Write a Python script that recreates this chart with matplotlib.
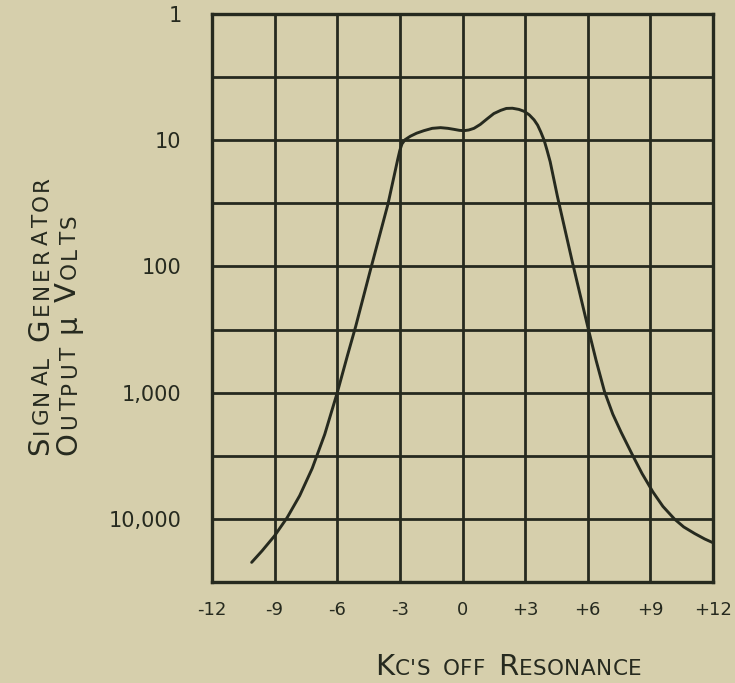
import numpy as np
import matplotlib
matplotlib.use("Agg")
import matplotlib.pyplot as plt
from matplotlib.ticker import NullFormatter
from matplotlib.font_manager import FontProperties, findfont, get_font

# curve: kc off resonance vs signal generator output (microvolts)
kc_off = [-10.1, -9.6, -9.0, -8.4, -7.8, -7.2, -6.6, -6.0, -5.5, -5.12,
          -4.4, -3.57, -3.3, -3.1, -3.0, -2.9, -2.75, -2.5, -2.2, -1.85,
          -1.45, -1.05, -0.7, -0.41, -0.15, 0.07, 0.3, 0.55, 0.85, 1.19,
          1.5, 1.83, 2.1, 2.39, 2.7, 2.95, 3.2, 3.43, 3.6, 3.75,
          3.91, 4.05, 4.2, 4.55, 5.28, 6.0, 6.4, 6.8, 7.2, 7.6,
          8.16, 8.6, 9.12, 9.6, 10.16, 10.6, 11.12, 11.6, 12.0]
output_uv = [22100, 17900, 13600, 9770, 6550, 3980, 2140, 1000, 500, 300,
             105, 32, 20, 14.1, 12, 10.7, 9.9, 9.3, 8.8, 8.4,
             8.05, 7.95, 8.05, 8.2, 8.35, 8.4, 8.3, 8.05, 7.5, 6.75,
             6.15, 5.8, 5.6, 5.58, 5.7, 5.9, 6.3, 6.9, 7.6, 8.6,
             10, 12, 14.8, 28, 95, 300, 555, 977, 1480, 2060,
             3160, 4370, 6110, 7960, 10050, 11590, 13060, 14420, 15450]

x_ticks = [-12, -9, -6, -3, 0, 3, 6, 9, 12]
x_tick_labels = ["-12", "-9", "-6", "-3", "0", "+3", "+6", "+9", "+12"]
y_ticks = [1, 10, 100, 1000, 10000]
y_tick_labels = ["1", "10", "100", "1,000", "10,000"]

paper = "#d6cfac"
ink = "#262a1f"
W, H = 735, 683

fig = plt.figure(figsize=(W / 100, H / 100), dpi=100, facecolor=paper)
ax = fig.add_axes([212 / W, 1 - 582 / H, (713 - 212) / W, (582 - 14) / H])
ax.set_facecolor(paper)

ax.plot(kc_off, output_uv, color=ink, lw=2.1, solid_joinstyle="round",
        solid_capstyle="round", zorder=3)

ax.set_yscale("log")
ax.set_ylim(10 ** 4.5, 1)
ax.set_xlim(-12, 12)
ax.set_xticks(x_ticks, x_tick_labels)
ax.set_yticks(y_ticks, y_tick_labels)
# half-decade grid lines
ax.set_yticks(np.logspace(0.5, 3.5, 4), minor=True)
ax.yaxis.set_minor_formatter(NullFormatter())
ax.grid(which="both", color=ink, lw=2.0)
ax.tick_params(which="both", length=0, labelcolor=ink)
ax.tick_params(axis="x", pad=14, labelsize=13)
ax.tick_params(axis="y", pad=22, labelsize=15)
for s in ax.spines.values():
    s.set_color(ink)
    s.set_linewidth(2.4)

font = get_font(findfont(FontProperties(family="DejaVu Sans")))


def advance(ch, size):
    # horizontal advance of one glyph in pixels at 100 dpi
    font.set_size(size, 100)
    return font.load_char(ord(ch)).linearHoriAdvance / 65536


def caps_label(x, y, parts, vertical=False, track=0.0):
    # fake small caps, letter by letter: (text, size) or (None, gap px)
    pos = 0.0
    for text, size in parts:
        if text is None:
            pos += size
            continue
        for ch in text:
            if vertical:
                fig.text(x / W, (y + pos) / H, ch, size=size, color=ink,
                         rotation=90, rotation_mode="anchor",
                         ha="left", va="baseline")
            else:
                fig.text((x + pos) / W, y / H, ch, size=size, color=ink,
                         ha="left", va="baseline")
            pos += advance(ch, size) + track


big, small = 21, 15.5
caps_label(375, 8, [("K", big), ("C'S", small), (None, 12), ("OFF", small),
                    (None, 12), ("R", big), ("ESONANCE", small)], track=0.5)
caps_label(48, 683 - 455, [("S", big), ("IGNAL", small), (None, 12),
                           ("G", big), ("ENERATOR", small)],
           vertical=True, track=3.0)
caps_label(76, 683 - 455, [("O", big), ("UTPUT", small), (None, 10),
                           ("\u03bc", big), (None, 10),
                           ("V", big), ("OLTS", small)],
           vertical=True, track=3.0)

fig.savefig("out.png", dpi=100, facecolor=paper)
